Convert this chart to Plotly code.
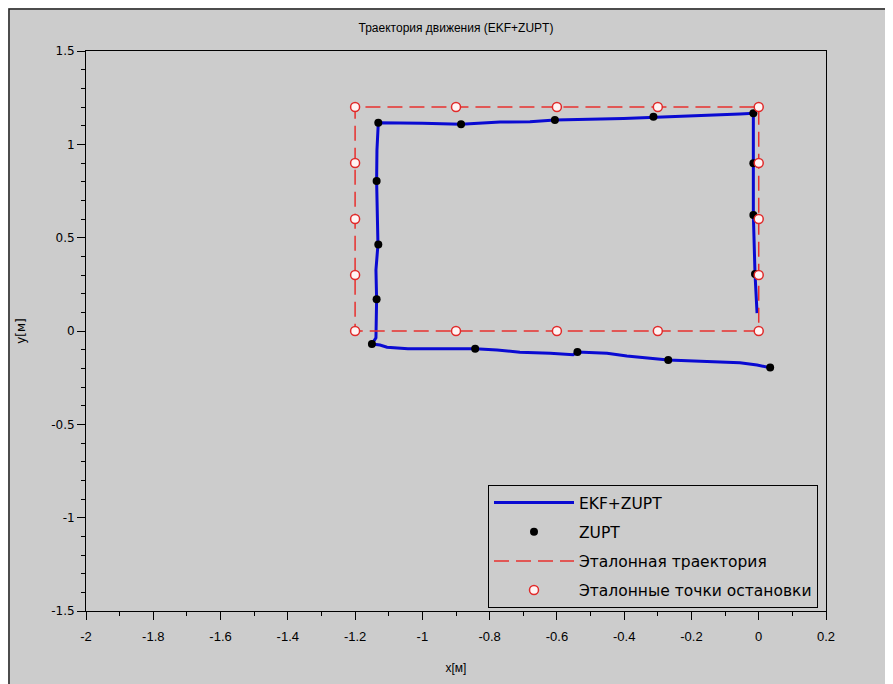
import plotly.graph_objects as go

# EKF+ZUPT estimated trajectory (x, y in metres)
ekf_x = [-0.005, -0.011, -0.016, -0.016, -0.016, -0.056, -0.172, -0.269, -0.313, -0.402,
         -0.606, -0.680, -0.769, -0.885, -1.000, -1.131, -1.135, -1.136, -1.132, -1.138,
         -1.136, -1.138, -1.150, -1.126, -1.105, -1.043, -0.843, -0.778, -0.710, -0.620,
         -0.552, -0.539, -0.451, -0.392, -0.323, -0.269, -0.154, -0.056, -0.005, 0.034]
ekf_y = [0.096, 0.305, 0.621, 0.898, 1.166, 1.162, 1.154, 1.148, 1.148, 1.138,
         1.130, 1.121, 1.119, 1.107, 1.113, 1.116, 0.969, 0.803, 0.464, 0.327,
         0.170, -0.037, -0.070, -0.075, -0.087, -0.095, -0.095, -0.102, -0.114, -0.119,
         -0.127, -0.112, -0.119, -0.134, -0.146, -0.155, -0.164, -0.170, -0.182, -0.197]

# ZUPT detected stop points
zupt_x = [-0.011, -0.016, -0.016, -0.016, -0.313, -0.606, -0.885, -1.131,
          -1.136, -1.131, -1.136, -1.150, -0.843, -0.539, -0.269, 0.034]
zupt_y = [0.305, 0.621, 0.898, 1.166, 1.148, 1.130, 1.107, 1.116,
          0.803, 0.464, 0.170, -0.070, -0.095, -0.112, -0.155, -0.196]

# Reference trajectory (rectangle)
ref_x = [0.0, -1.2, -1.2, 0.0, 0.0]
ref_y = [0.0, 0.0, 1.2, 1.2, 0.0]

# Reference stop points
stops_x = [0.0, -0.3, -0.6, -0.9, -1.2, -1.2, -1.2, -1.2, -1.2,
           -0.9, -0.6, -0.3, 0.0, 0.0, 0.0, 0.0]
stops_y = [0.0, 0.0, 0.0, 0.0, 0.0, 0.3, 0.6, 0.9, 1.2,
           1.2, 1.2, 1.2, 1.2, 0.9, 0.6, 0.3]

# Axis ticks
x_ticks = [-2, -1.8, -1.6, -1.4, -1.2, -1, -0.8, -0.6, -0.4, -0.2, 0, 0.2]
x_tick_labels = ["-2", "-1.8", "-1.6", "-1.4", "-1.2", "-1", "-0.8", "-0.6", "-0.4", "-0.2", "0", "0.2"]
y_ticks = [-1.5, -1, -0.5, 0, 0.5, 1, 1.5]
y_tick_labels = ["-1.5", "-1", "-0.5", "0", "0.5", "1", "1.5"]

NARROW = "Liberation Sans, Arial, sans-serif"
WIDE = "DejaVu Sans, Verdana, sans-serif"
GRAY = "rgb(204,204,204)"

# the page body has an 8px margin; layout below is expressed in figure pixels
L, R, T, B = 78, 75, 43, 81
PW, PH = 893 - L - R, 684 - T - B

fig = go.Figure()
fig.add_trace(go.Scatter(x=ekf_x, y=ekf_y, mode="lines", name="EKF+ZUPT",
                         line=dict(color="#0a0ad2", width=3), legendgroup="a"))
fig.add_trace(go.Scatter(x=zupt_x, y=zupt_y, mode="markers", name="ZUPT",
                         marker=dict(color="black", size=8), legendgroup="b"))
fig.add_trace(go.Scatter(x=ref_x, y=ref_y, mode="lines", name="Эталонная траектория",
                         line=dict(color="#e8302e", width=1.5, dash="15px,7px"), legendgroup="c"))
fig.add_trace(go.Scatter(x=stops_x, y=stops_y, mode="markers", name="Эталонные точки остановки",
                         marker=dict(color="#fff4f4", size=9, line=dict(color="#e02a2a", width=1.5)),
                         legendgroup="d"))

fig.update_layout(
    width=893, height=684, autosize=False,
    margin=dict(l=L, r=R, t=T, b=B, pad=0),
    paper_bgcolor=GRAY, plot_bgcolor=GRAY,
    font=dict(family=NARROW, size=13, color="black"),
    title=dict(text="Траектория движения (EKF+ZUPT)", x=(L + PW / 2) / 893, xanchor="center",
               y=1 - 20 / 684, yanchor="middle", font=dict(family=NARROW, size=12)),
    xaxis=dict(range=[-2, 0.2], tickvals=x_ticks, ticktext=x_tick_labels,
               showgrid=False, zeroline=False, showline=True, linecolor="black", linewidth=1,
               mirror=True, ticks="outside", ticklen=8, tickcolor="black",
               minor=dict(dtick=0.1, ticklen=4, tickcolor="black", ticks="outside", showgrid=False),
               title=dict(text="x[м]", standoff=21, font=dict(family=NARROW, size=12)),
               tickfont=dict(family=NARROW, size=13), ticklabelstandoff=5),
    yaxis=dict(range=[-1.5, 1.5], tickvals=y_ticks, ticktext=y_tick_labels,
               showgrid=False, zeroline=False, showline=True, linecolor="black", linewidth=1,
               mirror=True, ticks="outside", ticklen=8, tickcolor="black",
               minor=dict(dtick=0.1, ticklen=4, tickcolor="black", ticks="outside", showgrid=False),
               title=dict(text="y[м]", standoff=22, font=dict(family=WIDE, size=12)),
               tickfont=dict(family=WIDE, size=12)),
    legend=dict(x=(818 - 86) / 740, xanchor="right", y=(611 - 608) / 560, yanchor="bottom",
                bgcolor=GRAY, bordercolor="black", borderwidth=1,
                font=dict(family=WIDE, size=15.5), itemwidth=80,
                traceorder="grouped", tracegroupgap=6),
    showlegend=True,
)

# dark frame of the figure window (top and left edges visible)
fig.add_shape(type="rect", xref="paper", yref="paper",
              x0=-(L - 1) / PW, x1=(893 - L + 20) / PW,
              y0=-(B + 20) / PH, y1=1 + (T - 1) / PH,
              line=dict(color="#222222", width=1.5), layer="below")

fig.write_html("out.html")
